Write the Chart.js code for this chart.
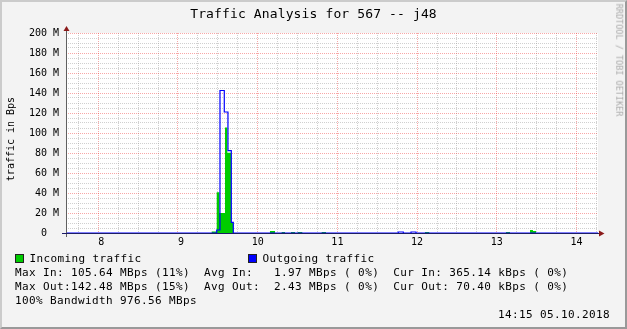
<!DOCTYPE html>
<html><head><meta charset="utf-8">
<script src="https://cdn.jsdelivr.net/npm/chart.js@4/dist/chart.umd.min.js"></script>
<style>
html,body{margin:0;padding:0;background:#f3f3f3;}
body{width:627px;height:329px;overflow:hidden;}
#wrap{position:relative;width:627px;height:329px;background:#f3f3f3;}
#frame{position:absolute;left:0;top:0;width:627px;height:329px;box-sizing:border-box;border-top:2px solid #cbcbcb;border-left:2px solid #cbcbcb;border-right:2px solid #999;border-bottom:2px solid #999;pointer-events:none;}
canvas{position:absolute;left:0;top:0;}
.t{position:absolute;font-family:"DejaVu Sans Mono",monospace;white-space:pre;line-height:1;color:#000;}
.s{font-size:11px;letter-spacing:0.38px;}
.sq{position:absolute;width:7px;height:7px;border:1px solid #222;}
</style></head>
<body><div id="wrap">
<canvas id="c" width="627" height="329" style="width:627px;height:329px"></canvas>
<div class="t" style="left:0;width:627px;text-align:center;top:7px;font-size:13px;letter-spacing:0.13px;">Traffic Analysis for 567 -- j48</div>
<div class="t" style="left:11px;top:139px;font-size:10px;transform:translate(-50%,-50%) rotate(-90deg);">traffic in Bps</div>
<div class="t" style="left:618.5px;top:60px;font-size:8.5px;color:#aaa;transform:translate(-50%,-50%) rotate(90deg);">RRDTOOL / TOBI OETIKER</div>
<div class="sq" style="left:15px;top:254px;background:#00cc00;"></div>
<div class="t s" style="left:29.5px;top:253px;">Incoming traffic</div>
<div class="sq" style="left:248px;top:254px;background:#0000ff;"></div>
<div class="t s" style="left:262.5px;top:253px;">Outgoing traffic</div>
<div class="t s" style="left:15px;top:267px;">Max In: 105.64 MBps (11%)  Avg In:   1.97 MBps ( 0%)  Cur In: 365.14 kBps ( 0%)</div>
<div class="t s" style="left:15px;top:280.5px;">Max Out:142.48 MBps (15%)  Avg Out:  2.43 MBps ( 0%)  Cur Out: 70.40 kBps ( 0%)</div>
<div class="t s" style="left:15px;top:294.5px;">100% Bandwidth 976.56 MBps</div>
<div class="t s" style="right:17px;top:308.5px;">14:15 05.10.2018</div>
<div id="frame"></div>
</div>
<script>
// time axis in decimal hours
const xMin = 7.595;
const xMax = 14.27;
const hourLabels = [8, 9, 10, 11, 12, 13, 14];
const yLabels = [0, 20, 40, 60, 80, 100, 120, 140, 160, 180, 200];

// Incoming traffic (MBps): each value holds from its time until the next time
const inTimes  = [7.595, 9.423, 9.486, 9.521, 9.590, 9.619, 9.665, 9.694, 10.154, 10.217, 10.301, 10.343, 10.418, 10.468, 10.502, 10.560, 10.803, 10.857, 12.099, 12.153, 13.115, 13.166, 13.417, 13.454, 13.492, 14.27];
const inValues = [0, 1.5, 40.7, 20, 105.6, 80.3, 10.5, 0, 2, 0, 1, 0, 1, 0, 1, 0, 1, 0, 1, 0, 1, 0, 3, 2, 0, 0.4];

// Outgoing traffic (MBps)
const outTimes  = [7.595, 9.486, 9.527, 9.581, 9.627, 9.669, 9.694, 11.764, 11.827, 11.924, 11.986, 14.27];
const outValues = [0, 3, 142.5, 121, 82.3, 10.7, 0, 1, 0, 1, 0, 0.07];

const RED = 'rgba(240,60,60,0.45)';
const GRAY = 'rgba(150,150,150,0.45)';
const FONT = {family: 'DejaVu Sans Mono', size: 10};

function pts(ts, vs) { return ts.map((t, i) => ({x: t, y: vs[i]})); }
const isHour = v => Math.abs(v - Math.round(v)) < 1e-6;

const deco = {
  id: 'deco',
  beforeDraw(chart) {
    const {ctx, chartArea: a} = chart;
    ctx.save();
    ctx.fillStyle = '#ffffff';
    ctx.fillRect(a.left, a.top, a.right - a.left, a.bottom - a.top);
    ctx.restore();
  },
  afterDatasetsDraw(chart) {
    const {ctx, chartArea: a} = chart;
    ctx.save();
    // y axis
    ctx.strokeStyle = '#606060';
    ctx.lineWidth = 1;
    ctx.beginPath();
    ctx.moveTo(a.left + 0.5, a.bottom + 4);
    ctx.lineTo(a.left + 0.5, a.top - 3);
    ctx.stroke();
    // x axis
    ctx.strokeStyle = '#1c1c66';
    ctx.beginPath();
    ctx.moveTo(a.left - 4, a.bottom + 0.5);
    ctx.lineTo(a.right + 2, a.bottom + 0.5);
    ctx.stroke();
    // arrows
    ctx.fillStyle = '#8b1a1a';
    ctx.beginPath();
    ctx.moveTo(a.left - 2.5, a.top - 2);
    ctx.lineTo(a.left + 3.5, a.top - 2);
    ctx.lineTo(a.left + 0.5, a.top - 7);
    ctx.closePath();
    ctx.fill();
    ctx.beginPath();
    ctx.moveTo(a.right + 1, a.bottom - 2.5);
    ctx.lineTo(a.right + 1, a.bottom + 3.5);
    ctx.lineTo(a.right + 6.5, a.bottom + 0.5);
    ctx.closePath();
    ctx.fill();
    ctx.restore();
  }
};

const xGrid = [];
for (let v = 7.75; v <= 14.26; v += 0.25) xGrid.push(Math.round(v * 100) / 100);
const yGrid = [];
for (let v = 0; v <= 200; v += 5) yGrid.push(v);

new Chart(document.getElementById('c'), {
  type: 'line',
  data: {
    datasets: [
      {
        label: 'Outgoing traffic',
        data: pts(outTimes, outValues),
        stepped: true,
        borderColor: '#0000ff',
        borderWidth: 1.2,
        pointRadius: 0,
        fill: false
      },
      {
        label: 'Incoming traffic',
        data: pts(inTimes, inValues),
        stepped: true,
        borderColor: '#00cc00',
        backgroundColor: '#00cc00',
        borderWidth: 0,
        pointRadius: 0,
        fill: 'origin'
      }
    ]
  },
  options: {
    responsive: false,
    animation: false,
    devicePixelRatio: 1,
    layout: {padding: {left: 0, top: 33, right: 29, bottom: 0}},
    plugins: {legend: {display: false}, tooltip: {enabled: false}, title: {display: false}},
    scales: {
      x: {
        type: 'linear', min: xMin, max: xMax,
        border: {display: false, dash: [1, 1]},
        grid: {drawTicks: false, lineWidth: 1, color: c => isHour(c.tick.value) ? RED : GRAY},
        ticks: {
          autoSkip: false, maxRotation: 0, padding: 3, font: FONT, color: '#000',
          callback: v => (isHour(v) && hourLabels.includes(Math.round(v))) ? (v < 10 ? ' ' + Math.round(v) : String(Math.round(v))) : ''
        },
        afterBuildTicks: s => { s.ticks = xGrid.map(v => ({value: v})); },
        afterFit: s => { s.height = 96; }
      },
      y: {
        min: 0, max: 200,
        border: {display: false, dash: [1, 1]},
        grid: {drawTicks: false, lineWidth: 1, color: c => (c.tick.value % 20 === 0) ? RED : GRAY},
        ticks: {
          autoSkip: false, padding: 7, font: FONT, color: '#000',
          callback: v => yLabels.includes(v) ? (v === 0 ? '0  ' : v + ' M') : ''
        },
        afterBuildTicks: s => { s.ticks = yGrid.map(v => ({value: v})); },
        afterFit: s => { s.width = 66; }
      }
    }
  },
  plugins: [deco]
});
</script>
</body></html>
